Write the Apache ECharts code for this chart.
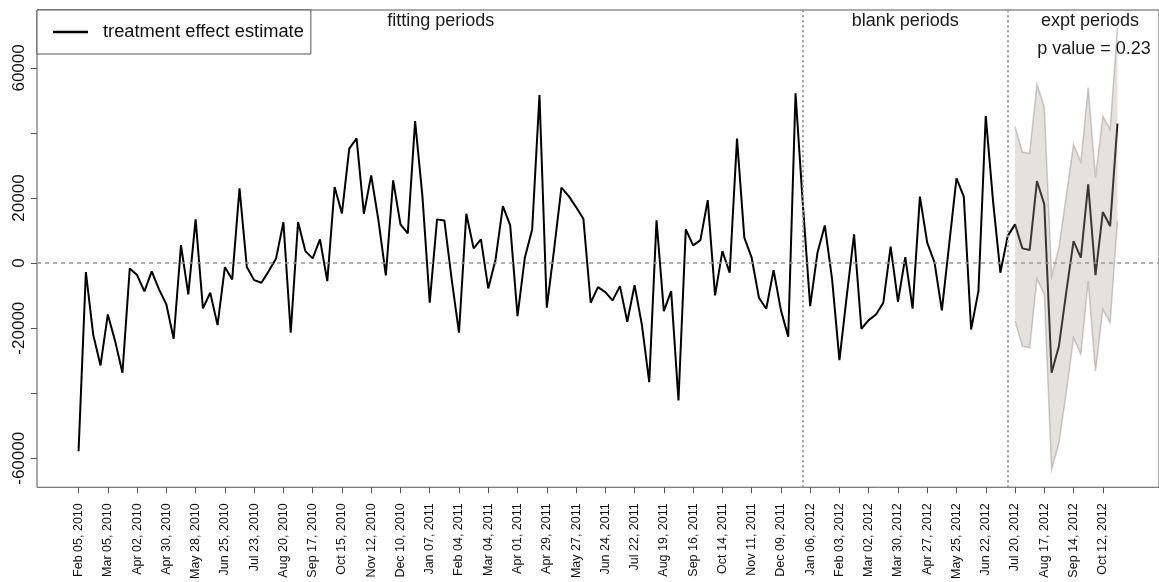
<!DOCTYPE html>
<html><head><meta charset="utf-8">
<script src="https://cdn.jsdelivr.net/npm/echarts@6/dist/echarts.min.js"></script>
<style>html,body{margin:0;padding:0;background:#fff}#c{width:1159px;height:582px}</style>
</head><body><div id="c"></div>
<script>
// ---- data ----
const tickLabels = ['Feb 05, 2010','Mar 05, 2010','Apr 02, 2010','Apr 30, 2010','May 28, 2010','Jun 25, 2010','Jul 23, 2010','Aug 20, 2010','Sep 17, 2010','Oct 15, 2010','Nov 12, 2010','Dec 10, 2010','Jan 07, 2011','Feb 04, 2011','Mar 04, 2011','Apr 01, 2011','Apr 29, 2011','May 27, 2011','Jun 24, 2011','Jul 22, 2011','Aug 19, 2011','Sep 16, 2011','Oct 14, 2011','Nov 11, 2011','Dec 09, 2011','Jan 06, 2012','Feb 03, 2012','Mar 02, 2012','Mar 30, 2012','Apr 27, 2012','May 25, 2012','Jun 22, 2012','Jul 20, 2012','Aug 17, 2012','Sep 14, 2012','Oct 12, 2012'];
const tickIndex = [0,4,8,12,16,20,24,28,32,36,40,44,48,52,56,60,64,68,72,76,80,84,88,92,96,100,104,108,112,116,120,124,128,132,136,140];
const effect = [
 -57810,-2770,-21920,-31460,-15780,-23980,-33700,-1630,-3690,-8700,
 -2550,-8090,-12700,-23250,5540,-9620,13440,-13930,-9110,-19060,
 -1230,-5010,22970,-1230,-5230,-6030,-2460,1450,12610,-21400,
 12610,3690,1450,7290,-5530,23370,15280,35180,38350,15190,
 26970,13000,-3780,25430,11900,9130,43670,20600,-12180,13440,
 13130,-5010,-21400,15190,4520,7290,-7780,1140,17530,11590,
 -16300,1660,10360,51660,-13720,4210,23190,20600,17220,13650,
 -12180,-7380,-8920,-11470,-7070,-18020,-6760,-19000,-36590,13130,
 -14760,-8610,-42220,10360,5440,7070,19370,-9930,3690,-2950,
 38250,7810,1660,-10640,-14020,-2150,-14450,-22630,52180,18000,
 -13220,3200,11590,-5010,-29830,-10150,8830,-20180,-17530,-15780,
 -12180,5040,-11870,1850,-14020,20420,6270,120,-14540,5750,
 26050,20420,-20390,-8610,45200,19000,-2950,8300,11900,4520,
 4000,25220,18050,-33700,-25520,-9000,6770,1660,24200,-3690,
 15690,11380,42870];
const bandIndex = [128,129,130,131,132,133,134,135,136,137,138,139,140,141,142];
const bandUpper = [41940,34140,33730,54950,47970,-4000,4730,20600,36500,31060,53930,26260,45200,41110,72380];
const bandLower = [-17830,-25520,-26020,-4800,-9620,-63440,-55230,-39850,-22940,-28070,-5530,-33210,-14240,-18330,12920];
const yTicks = [-60000,-40000,-20000,0,20000,40000,60000];
const yLabels = [-60000,-20000,0,20000,60000];
const periodBreaks = [99,127];
const periodNames = ['fitting periods','blank periods','expt periods'];
const pValueText = 'p value = 0.23';
const seriesName = 'treatment effect estimate';

// ---- chart ----
const FONT = '"Liberation Sans", Arial, Helvetica, sans-serif';
const chart = echarts.init(document.getElementById('c'), null, {renderer:'canvas'});
const option = {
  animation: false,
  backgroundColor: '#fff',
  grid: {left:37, width:1125, top:10, bottom:94, show:true, borderColor:'#555', borderWidth:1, backgroundColor:'transparent'},
  legend: {
    data:[{name:seriesName, icon:'rect'}],
    left:37, top:10, orient:'horizontal',
    itemWidth:35, itemHeight:2.5,
    padding:[13,7,13,16],
    borderColor:'#555', borderWidth:1, borderRadius:0,
    backgroundColor:'#fff',
    textStyle:{fontSize:18.3, color:'#111', fontFamily:FONT, padding:[0,0,0,10]},
    selectedMode:false
  },
  xAxis: {
    type:'value', min:-5.68, max:147.68,
    axisLine:{show:false, onZero:false},
    splitLine:{show:false},
    axisTick:{show:true, customValues:tickIndex, length:6, lineStyle:{color:'#555', width:1}},
    axisLabel:{customValues:tickIndex, rotate:90, fontSize:12.5, color:'#111', fontFamily:FONT, margin:16,
      formatter:(v)=>tickLabels[tickIndex.indexOf(v)]}
  },
  yAxis: {
    type:'value', min:-68900, max:77800,
    axisLine:{show:false, onZero:false},
    splitLine:{show:false},
    axisTick:{show:true, customValues:yTicks, length:6, lineStyle:{color:'#555', width:1}},
    axisLabel:{customValues:yLabels, rotate:90, fontSize:17, color:'#111', fontFamily:FONT, margin:9,
      formatter:(v)=>String(v)}
  },
  series: [
    {
      name:seriesName, type:'line', symbol:'none', z:2,
      data: effect.map((v,i)=>[i,v]),
      lineStyle:{color:'#000', width:2},
      itemStyle:{color:'#000'},
      markLine:{
        silent:true, symbol:'none', label:{show:false}, animation:false,
        data:[
          {yAxis:0, lineStyle:{type:[4,4], color:'#999', width:1.5}},
          {xAxis:periodBreaks[0], lineStyle:{type:[2,3], color:'#999', width:2}},
          {xAxis:periodBreaks[1], lineStyle:{type:[2,3], color:'#999', width:2}}
        ]
      }
    },
    {
      type:'custom', z:3, silent:true,
      data: bandIndex.map((x,k)=>[x, bandLower[k], bandUpper[k]]),
      encode:{x:0, y:[1,2]},
      renderItem:function(params, api){
        if (params.dataIndex !== 0) return null;
        const up = bandIndex.map((x,k)=>api.coord([x, bandUpper[k]]));
        const lo = bandIndex.map((x,k)=>api.coord([x, bandLower[k]]));
        const poly = up.concat(lo.slice().reverse());
        return {type:'group', children:[
          {type:'polygon', shape:{points:poly}, style:{fill:'rgba(176,164,158,0.33)', stroke:null}},
          {type:'polyline', shape:{points:up}, style:{stroke:'rgba(103,88,82,0.3)', lineWidth:1.5, fill:null}},
          {type:'polyline', shape:{points:lo}, style:{stroke:'rgba(103,88,82,0.3)', lineWidth:1.5, fill:null}}
        ]};
      }
    }
  ]
};
chart.setOption(option);

function txt(t, x, y){
  return {type:'text', x:x, y:y, silent:true, z:10,
    style:{text:t, fontSize:18, fontFamily:FONT, fill:'#1a1a1a', align:'center', verticalAlign:'middle'}};
}
const midFit = chart.convertToPixel({xAxisIndex:0}, (0 + periodBreaks[0]) / 2);
const midBlank = chart.convertToPixel({xAxisIndex:0}, (periodBreaks[0] + periodBreaks[1]) / 2);
chart.setOption({graphic:[
  txt(periodNames[0], midFit, 21),
  txt(periodNames[1], midBlank, 21),
  txt(periodNames[2], 1090, 21),
  txt(pValueText, 1094, 49)
]});
</script>
</body></html>
